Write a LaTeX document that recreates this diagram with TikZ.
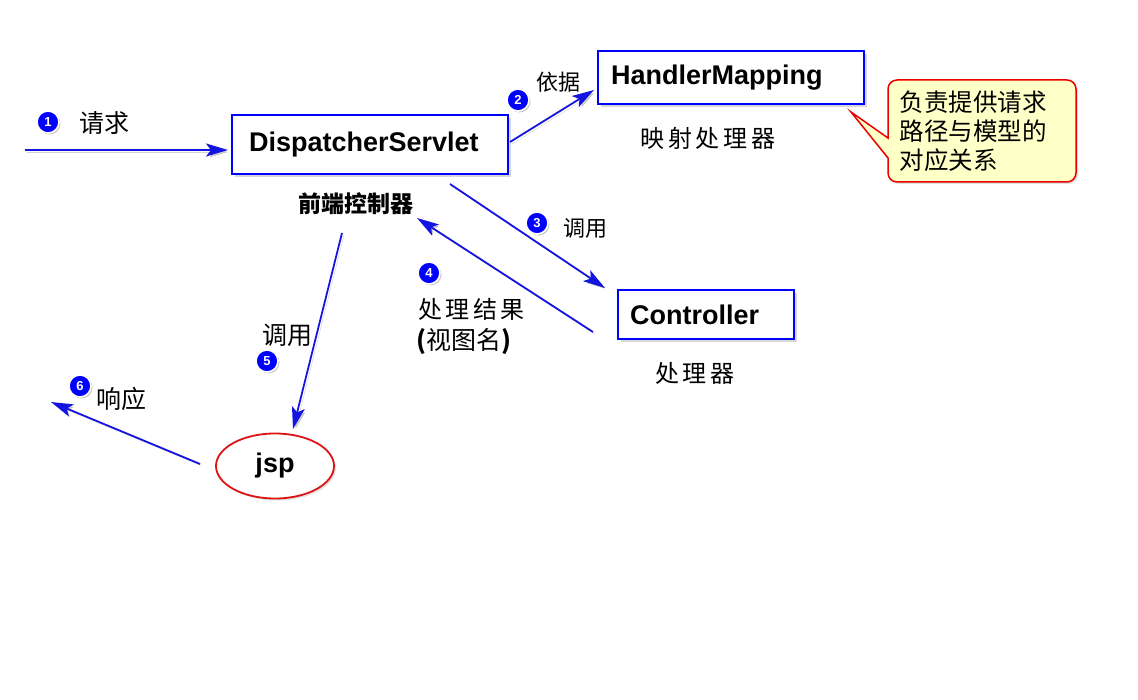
\documentclass[tikz,border=0pt]{standalone}
\usepackage{fontspec}
\setmainfont{Liberation Sans}
\newfontfamily\cjk{Noto Sans CJK SC}
\usetikzlibrary{arrows.meta,shadows,shapes.geometric}
\definecolor{arrblue}{RGB}{20,20,225}
\definecolor{boxblue}{RGB}{0,0,255}
\definecolor{notefill}{RGB}{255,255,200}
\definecolor{notered}{RGB}{235,0,0}
\definecolor{ellred}{RGB}{220,20,20}
\begin{document}
\begin{tikzpicture}[x=1pt,y=-1pt,
  box/.style={draw=boxblue, line width=2.2pt, fill=white,
    drop shadow={shadow xshift=2.5pt, shadow yshift=-2.5pt, opacity=0.3},
    font=\fontsize{27}{30}\selectfont\bfseries, anchor=north west,
    inner ysep=0pt, align=left},
  conn/.style={draw=arrblue, line width=1.8pt,
    -{Stealth[length=22pt,width=13pt,inset=5pt]},
    preaction={draw=black, opacity=0.18, transform canvas={shift={(2pt,-2pt)}}}},
  numc/.style={circle, fill=boxblue, draw=white, line width=1.6pt,
    minimum size=22pt, inner sep=0pt, text=white,
    font=\fontsize{13}{13}\selectfont\bfseries,
    drop shadow={shadow xshift=1.5pt, shadow yshift=-1.5pt, opacity=0.45}},
  lab/.style={font=\cjk\fontsize{25}{28}\selectfont, inner sep=0pt},
  labs/.style={font=\cjk\fontsize{22}{26}\selectfont, inner sep=0pt},
  labw/.style={font=\cjk\fontsize{24}{28}\selectfont\addfontfeature{LetterSpace=15}, inner sep=0pt},
]
\useasboundingbox[fill=white] (0,0) rectangle (1138,700);

% boxes
\node[box, inner xsep=17pt, text width=242pt, minimum height=59pt] (ds) at (231,114) {DispatcherServlet};
\node[box, inner xsep=13pt, text width=240pt, minimum height=53pt] (hm) at (597,50) {HandlerMapping};
\node[box, inner xsep=12pt, text width=152pt, minimum height=49pt] (ctl) at (617,289) {Controller};
\node[ellipse, draw=ellred, line width=1.8pt, fill=white, minimum width=118pt, minimum height=65pt,
  font=\fontsize{27}{30}\selectfont\bfseries, inner sep=0pt,
  drop shadow={shadow xshift=2pt, shadow yshift=-2pt, opacity=0.25}] (jsp) at (275,466) {jsp};

% callout
\filldraw[draw=notered, fill=notefill, line width=1.5pt,
  drop shadow={shadow xshift=2pt, shadow yshift=-2pt, opacity=0.25}]
  (851,112) -- (888,138) [rounded corners=9pt] -- (888,80) -- (1076,80) -- (1076,182) -- (888,182) [sharp corners] -- (888,158) -- cycle;
\node[font=\cjk\fontsize{24.5}{29}\selectfont, align=left, inner sep=0pt] (note) at (973,131) {负责提供请求\\路径与模型的\\对应关系};

% captions
\node[font=\cjk\bfseries\fontsize{23}{26}\selectfont, inner sep=0pt] (dsc) at (356,204) {前端控制器};
\node[labw] (hmc) at (708,138) {映射处理器};
\node[labw] (ctlc) at (695,373) {处理器};

% endpoints
\coordinate (s1) at (25,150);
\coordinate (e1) at (228,150);
\coordinate (s2) at (510,142);
\coordinate (e2) at (594,90);
\coordinate (s3) at (450,184);
\coordinate (e3) at (605,288);
\coordinate (s4) at (593,332);
\coordinate (e4) at (417,218);
\coordinate (s5) at (342,233);
\coordinate (e5) at (293,429);
\coordinate (s6) at (200,464);
\coordinate (e6) at (51,402);

\draw[conn] (s1) -- (e1);
\draw[conn] (s2) -- (e2);
\draw[conn] (s3) -- (e3);
\draw[conn] (s4) -- (e4);
\draw[conn] (s5) -- (e5);
\draw[conn] (s6) -- (e6);

% numbers
\node[numc] (n1) at (48,122) {1};
\node[numc] (n2) at (518,100) {2};
\node[numc] (n3) at (537,223) {3};
\node[numc] (n4) at (429,273) {4};
\node[numc] (n5) at (267,361) {5};
\node[numc] (n6) at (80,386) {6};

% labels
\node[lab] (t1) at (104,123) {请求};
\node[labs] (t2) at (558,82) {依据};
\node[labs] (t3) at (585,228) {调用};
\node[labw, anchor=west] (t4a) at (418,309) {处理结果};
\node[font=\cjk\fontsize{25}{28}\selectfont, inner sep=0pt, anchor=west] (t4b) at (416,342) {\textbf{(}视图名\textbf{)}};
\node[lab] (t5) at (287,335) {调用};
\node[lab] (t6) at (121,399) {响应};
\end{tikzpicture}
\end{document}
